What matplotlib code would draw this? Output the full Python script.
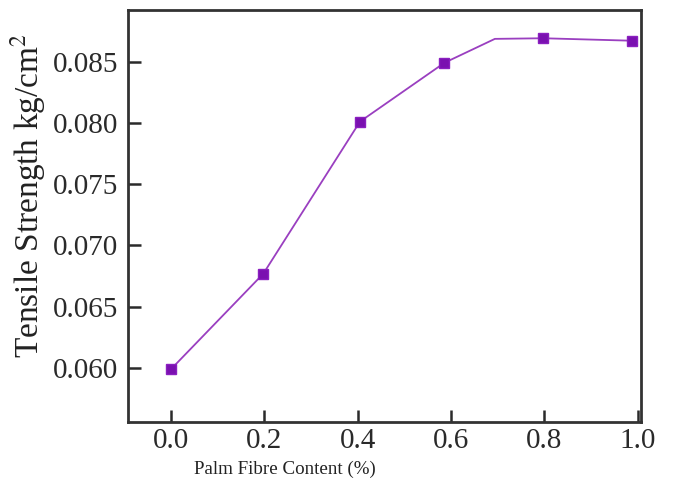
import matplotlib
matplotlib.use("Agg")
import matplotlib.pyplot as plt

# data
x_line = [0.0, 0.198, 0.405, 0.586, 0.694, 0.798, 0.987]
y_line = [0.0599, 0.0677, 0.0801, 0.0849, 0.08685, 0.0869, 0.0867]
marker_idx = [0, 1, 2, 3, 5, 6]

xticks = [0.0, 0.2, 0.4, 0.6, 0.8, 1.0]
yticks = [0.060, 0.065, 0.070, 0.075, 0.080, 0.085]

plt.rcParams['font.family'] = ['Liberation Serif', 'DejaVu Serif']
plt.rcParams['mathtext.fontset'] = 'stix'

fig = plt.figure(figsize=(6.75, 4.79), dpi=100)
ax = fig.add_axes([0.1896, 0.119, 0.76, 0.86])

ax.plot(x_line, y_line, color='#9a3fc0', lw=1.3,
        marker='s', markersize=7, markevery=marker_idx,
        markerfacecolor='#7a10b0', markeredgecolor='#8a20c0')

ax.set_xlim(-0.092, 1.007)
ax.set_ylim(0.0556, 0.0892)
ax.set_xticks(xticks)
ax.set_xticklabels([f"{v:.1f}" for v in xticks])
ax.set_yticks(yticks)
ax.set_yticklabels([f"{v:.3f}" for v in yticks])

ax.tick_params(direction='in', length=9, width=1.8, labelsize=21, colors='#2a2a2a')
ax.tick_params(axis='y', pad=7)
ax.tick_params(axis='x', pad=4)
ax.tick_params(top=False, right=False)
for s in ax.spines.values():
    s.set_linewidth(2)
    s.set_color('#333333')

ax.set_xlabel('Palm Fibre Content (%)', fontsize=13.7, color='#222222')
ax.xaxis.set_label_coords(0.305, -0.093)
ax.set_ylabel('Tensile Strength kg/cm$^2$', fontsize=24, color='#222222')
ax.yaxis.set_label_coords(-0.156, 0.549)

fig.savefig('out.png', dpi=100)
